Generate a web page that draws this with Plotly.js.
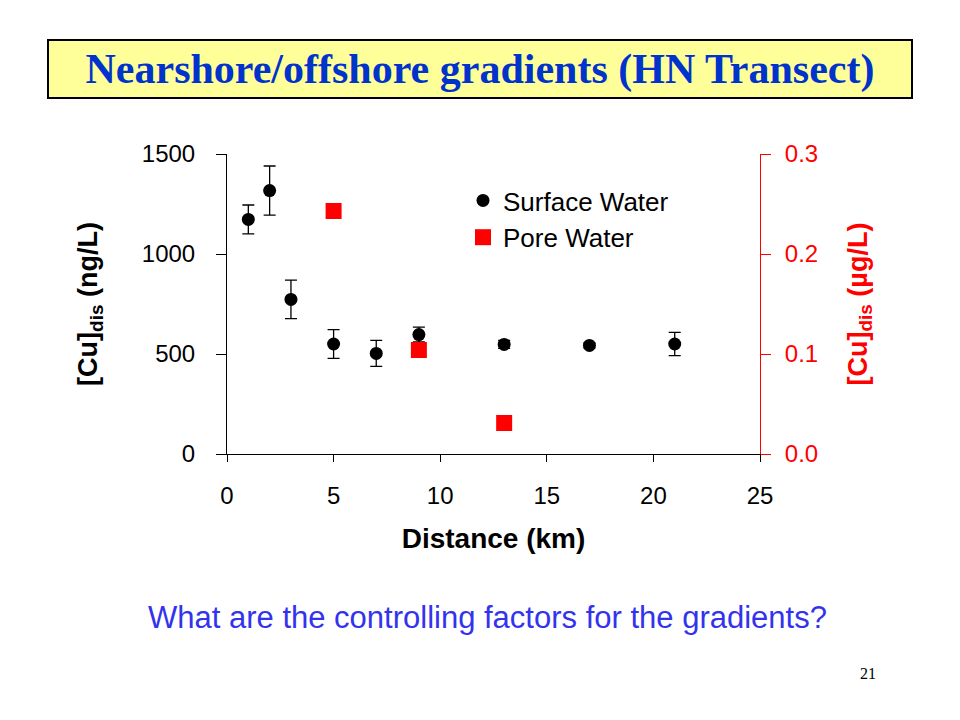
<!DOCTYPE html>
<html>
<head>
<meta charset="utf-8">
<script src="https://cdn.plot.ly/plotly-3.0.1.min.js"></script>
<style>html,body{margin:0;padding:0;background:#fff;}#chart{width:960px;height:720px;}</style>
</head>
<body>
<div id="chart"></div>
<script>
// Surface water data (left axis, ng/L)
const surfaceDistance = [1, 2, 3, 5, 7, 9, 13, 17, 21];
const surfaceCu = [1173, 1317, 773, 550, 503, 597, 548, 543, 550];
const surfaceErr = [72, 123, 96, 72, 65, 37, 20, 12, 58];
// Pore water data (right axis, ug/L)
const poreDistance = [5, 9, 13];
const poreCu = [0.243, 0.104, 0.031];

const titleText = "Nearshore/offshore gradients (HN Transect)";
const questionText = "What are the controlling factors for the gradients?";
const pageNumber = "21";

// plot area in pixels
const L = 227, R = 760, T = 154, B = 454;
const px2x = p => (p - L) / (R - L);
const py2y = p => (B - p) / (B - T);

const font = "Liberation Sans, Arial, sans-serif";

const traces = [
  {
    x: surfaceDistance, y: surfaceCu, type: "scatter", mode: "markers",
    name: "Surface Water",
    marker: {symbol: "circle", size: 13, color: "black"},
    error_y: {type: "data", array: surfaceErr, visible: true, color: "black", thickness: 1.3, width: 6},
    xaxis: "x", yaxis: "y"
  },
  {
    x: poreDistance, y: poreCu, type: "scatter", mode: "markers",
    name: "Pore Water",
    marker: {symbol: "square", size: 16, color: "#FF0000"},
    xaxis: "x", yaxis: "y2"
  }
];

const layout = {
  width: 960, height: 720,
  paper_bgcolor: "white", plot_bgcolor: "white",
  margin: {l: L, r: 960 - R, t: T, b: 720 - B, pad: 0},
  showlegend: true,
  legend: {
    x: px2x(463), y: py2y(177), xanchor: "left", yanchor: "top",
    font: {family: font, size: 26, color: "black"},
    bgcolor: "rgba(0,0,0,0)", tracegroupgap: 0, itemwidth: 30
  },
  xaxis: {
    range: [0, 25], dtick: 5, tick0: 0,
    showline: true, linecolor: "black", linewidth: 1,
    ticks: "outside", ticklen: 7, tickcolor: "black", tickwidth: 1,
    showgrid: false, zeroline: false,
    tickfont: {family: font, size: 24, color: "black"},
    ticklabelstandoff: 13,
    title: {text: "<b>Distance (km)</b>", font: {family: font, size: 28, color: "black"}, standoff: 20}
  },
  yaxis: {
    range: [0, 1500], dtick: 500, tick0: 0,
    showline: true, linecolor: "black", linewidth: 1,
    ticks: "outside", ticklen: 10, tickcolor: "black", tickwidth: 1,
    showgrid: false, zeroline: false,
    tickfont: {family: font, size: 24, color: "black"},
    ticklabelstandoff: 16,
    title: {text: "<b>[Cu]<sub>dis</sub> (ng/L)</b>", font: {family: font, size: 27, color: "black"}, standoff: 36}
  },
  yaxis2: {
    overlaying: "y", side: "right", anchor: "x",
    range: [0, 0.3], dtick: 0.1, tick0: 0, tickformat: ".1f",
    showline: true, linecolor: "#FF0000", linewidth: 1,
    ticks: "outside", ticklen: 10, tickcolor: "#FF0000", tickwidth: 1,
    showgrid: false, zeroline: false,
    tickfont: {family: font, size: 24, color: "#FF0000"},
    ticklabelstandoff: 9,
    title: {text: "<b>[Cu]<sub>dis</sub> (µg/L)</b>", font: {family: font, size: 27, color: "#FF0000"}, standoff: 30}
  },
  annotations: [
    {
      xref: "paper", yref: "paper", x: px2x(480), y: py2y(69),
      xanchor: "center", yanchor: "middle",
      text: "<b>" + titleText + "</b>", showarrow: false,
      font: {family: "Liberation Serif, Times New Roman, serif", size: 42, color: "#0033CC"},
      bgcolor: "#FFFF99", bordercolor: "black", borderwidth: 2,
      width: 862, height: 56, borderpad: 0
    },
    {
      xref: "paper", yref: "paper", x: px2x(487), y: py2y(617),
      xanchor: "center", yanchor: "middle",
      text: questionText, showarrow: false,
      font: {family: font, size: 31, color: "#3333EE"}
    },
    {
      xref: "paper", yref: "paper", x: px2x(868), y: py2y(673),
      xanchor: "center", yanchor: "middle",
      text: pageNumber, showarrow: false,
      font: {family: "Liberation Serif, Times New Roman, serif", size: 16, color: "black"}
    }
  ]
};

Plotly.newPlot("chart", traces, layout, {displayModeBar: false, staticPlot: true});
</script>
</body>
</html>
